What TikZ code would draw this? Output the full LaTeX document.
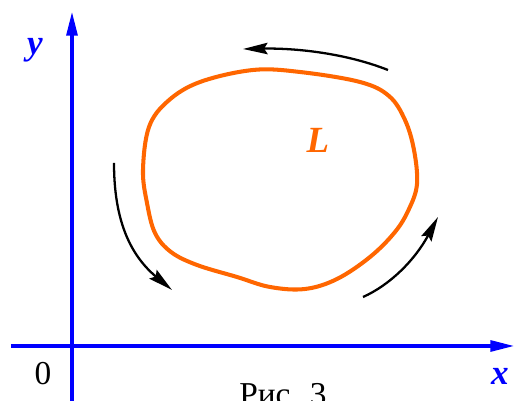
\documentclass[tikz,border=0pt]{standalone}
\usepackage{fontspec}
\setmainfont{Liberation Serif}
\usetikzlibrary{arrows.meta}
\definecolor{caxis}{RGB}{0,0,255}
\definecolor{ccurve}{RGB}{255,102,0}

\begin{document}
\begin{tikzpicture}[
  x=0.02cm,y=-0.02cm,
  axis/.style={draw=caxis,line width=2.3pt,-{Triangle[length=14pt,width=6pt]}},
  curve/.style={draw=ccurve,line width=2.3pt},
  flow/.style={draw,line width=1.3pt,-{Stealth[length=14pt,width=6.5pt,inset=2pt]}},
  alab/.style={text=caxis,font=\fontsize{20}{24}\selectfont\bfseries\itshape},
  clab/.style={text=ccurve,font=\fontsize{21}{25}\selectfont\bfseries\itshape},
  plain/.style={font=\fontsize{19}{23}\selectfont}
]
\useasboundingbox (0,0) rectangle (515,401);

% ---- axes ----
\coordinate (xs) at (11,346);
\coordinate (xe) at (515,346);
\coordinate (ys) at (72,410);
\coordinate (ye) at (72,11);
\draw[axis] (xs) -- (xe);
\draw[axis] (ys) -- (ye);
\node[alab] (ylab) at (35,50) {y};
\node[alab] (xlab) at (500,376) {x};
\node[plain] (zero) at (43,374) {0};

% ---- contour L ----
\draw[curve] plot[smooth cycle,tension=0.6] coordinates {
  (143,170) (149,127) (168,101) (200,82) (253,70) (300,72) (360,82)
  (389,96) (405,120) (414,150) (417,184) (409,209) (395,232) (370,257)
  (337,279) (305,289) (270,287) (237,277) (197,265) (171,252) (155,233) (147,203)};
\node[clab] (lab) at (318,140) {L};

% ---- direction arrows ----
\coordinate (ta) at (388,70);
\coordinate (tb) at (243,49);
\coordinate (la) at (114,163);
\coordinate (lb) at (172,290);
\coordinate (ra) at (363,297);
\coordinate (rb) at (438,217);
\draw[flow] (ta) .. controls (345,53) and (295,48) .. (tb);
\draw[flow] (la) .. controls (114,220) and (130,255) .. (lb);
\draw[flow] (ra) .. controls (390,285) and (415,260) .. (rb);

% ---- caption ----
\node[plain,anchor=base] (cap) at (283,406) {Рис. 3};
\end{tikzpicture}
\end{document}
